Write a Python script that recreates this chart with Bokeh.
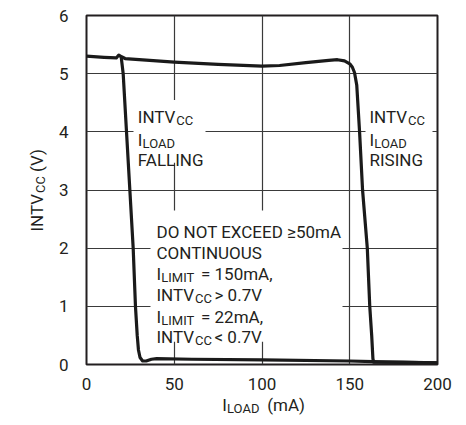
import math
from bokeh.plotting import figure
from bokeh.layouts import row, column
from bokeh.models import Label, FixedTicker, Range1d
from bokeh.embed import file_html
from bokeh.resources import INLINE

# ---- data ----
rising_x = [0, 10, 17, 18.4, 20, 22, 30, 50, 75, 100, 110, 125, 138, 143, 147, 150, 151.5, 152.7,
            154, 155.6, 157.3, 160, 161.4, 162.5, 163.2, 163.6, 180, 200]
rising_y = [5.30, 5.28, 5.27, 5.32, 5.29, 5.26, 5.24, 5.20, 5.16, 5.13, 5.14, 5.19, 5.23, 5.24, 5.22,
            5.17, 5.11, 5.02, 4.8, 4.0, 3.0, 2.0, 1.0, 0.5, 0.1, 0.04, 0.035, 0.03]
falling_x = [19.8, 20.9, 22.8, 24.7, 26.6, 27.9, 28.9, 29.6, 30.5, 32, 34, 37, 40, 60, 100, 150, 163, 200]
falling_y = [5.28, 5.0, 4.0, 3.0, 2.0, 1.0, 0.5, 0.25, 0.12, 0.06, 0.06, 0.09, 0.10, 0.09, 0.08, 0.06, 0.05, 0.03]

x_ticks = [0, 50, 100, 150, 200]
y_ticks = [0, 1, 2, 3, 4, 5, 6]

FONT = "Roboto"
INK = "#231f20"
MAIN = "17px"
SUB = "13px"

# ---- geometry (canvas pixels) ----
LEFT_W = 50
MAIN_W = 408
MAIN_H = 392
BOT_H = 25
TOTAL_H = MAIN_H + BOT_H

p = figure(width=MAIN_W, height=MAIN_H, output_backend="svg", toolbar_location=None, title=None,
           x_range=Range1d(0, 200), y_range=Range1d(0, 6),
           min_border_left=36, min_border_top=15, min_border_right=21, min_border_bottom=26)
p.background_fill_color = "white"
p.border_fill_color = "white"
p.outline_line_color = INK
p.outline_line_width = 2

for ax in (p.xaxis[0], p.yaxis[0]):
    ax.axis_line_color = None
    ax.major_tick_line_color = None
    ax.minor_tick_line_color = None
    ax.major_label_text_font = FONT
    ax.major_label_text_font_size = MAIN
    ax.major_label_text_color = INK
p.xaxis[0].ticker = FixedTicker(ticks=x_ticks)
p.yaxis[0].ticker = FixedTicker(ticks=y_ticks)
p.xaxis[0].major_label_standoff = 7
p.yaxis[0].major_label_standoff = 12

p.xgrid[0].ticker = FixedTicker(ticks=x_ticks)
p.ygrid[0].ticker = FixedTicker(ticks=y_ticks)
for g in (p.xgrid[0], p.ygrid[0]):
    g.grid_line_color = "#3a3a3a"
    g.grid_line_width = 1.2

# picture pixels -> data
def dx(px):
    return (px - 86) / 1.755

def dy(py):
    return (366 - py) / 58.5

# white boxes behind the annotations (grid interrupted)
p.quad(left=[dx(133), dx(365), dx(150)], right=[dx(205), dx(432), dx(342)],
       top=[dy(100), dy(100), dy(211)], bottom=[dy(163), dy(163), dy(343)],
       fill_color="white", line_color=None)

p.line(rising_x, rising_y, line_width=3.2, line_color="#1a1a1a", line_join="round", line_cap="round")
p.line(falling_x, falling_y, line_width=3.2, line_color="#1a1a1a", line_join="round", line_cap="round")

def lab(fig, text, x, y, size=MAIN, angle=0.0, baseline="alphabetic"):
    fig.add_layout(Label(x=x, y=y, text=text, text_font=FONT, text_font_size=size,
                         text_color=INK, text_baseline=baseline, text_align="left", angle=angle))

def plab(text, px, py, size=MAIN):
    lab(p, text, dx(px), dy(py), size)

W_INTV = 38.5   # width of "INTV" at MAIN size
W_I = 4.8       # width of "I" at MAIN size

# falling / rising blocks
for x0 in (137.3, 369.0):
    plab("INTV", x0, 117.3)
    plab("CC", x0 + W_INTV, 120.7, SUB)
    plab("I", x0, 140.5)
    plab("LOAD", x0 + W_I, 143.8, SUB)
plab("FALLING", 137.3, 160.7)
plab("RISING", 369.0, 160.7)

# big block
plab("DO NOT EXCEED \u226550mA", 156, 232.3)
plab("CONTINUOUS", 156, 254)
for base, rest in ((275, "= 150mA,"), (318.3, "= 22mA,")):
    plab("I", 156, base)
    plab("LIMIT", 156 + W_I, base + 3.3, SUB)
    plab(rest, 200.5, base)
for base, rest in ((296, "> 0.7V"), (338.7, "< 0.7V")):
    plab("INTV", 156, base)
    plab("CC", 156 + W_INTV, base + 3.3, SUB)
    plab(rest, 214.0, base)

# ---- helper canvases for the axis titles ----
def text_canvas(w, h, xr):
    f = figure(width=w, height=h, output_backend="svg", toolbar_location=None, title=None,
               x_range=xr, y_range=Range1d(h, 0),
               x_axis_location=None, y_axis_location=None,
               min_border_left=0, min_border_right=0, min_border_top=0, min_border_bottom=0)
    f.grid.visible = False
    f.outline_line_color = None
    f.background_fill_color = "white"
    f.border_fill_color = "white"
    return f

left = text_canvas(LEFT_W, TOTAL_H, Range1d(0, LEFT_W))
# y title, rotated, reading upward
yb = 231
lab(left, "INTV", 36.7, yb, angle=math.pi / 2)
lab(left, "CC", 40.3, yb - W_INTV, SUB, angle=math.pi / 2)
lab(left, "(V)", 36.7, yb - W_INTV - 21, angle=math.pi / 2)

# bottom canvas: its frame is aligned with the main frame, so x uses the same data scale
bottom = text_canvas(MAIN_W, BOT_H, Range1d(0, 200))
lab(bottom, "I", dx(221.7), 12.5, baseline="middle")
lab(bottom, "LOAD", dx(221.7 + W_I), 15.5, SUB, baseline="middle")
lab(bottom, "(mA)", dx(266.7), 12.5, baseline="middle")

layout = row(left, column(p, bottom, spacing=0), spacing=0)
open("out.html", "w").write(file_html(layout, INLINE))
